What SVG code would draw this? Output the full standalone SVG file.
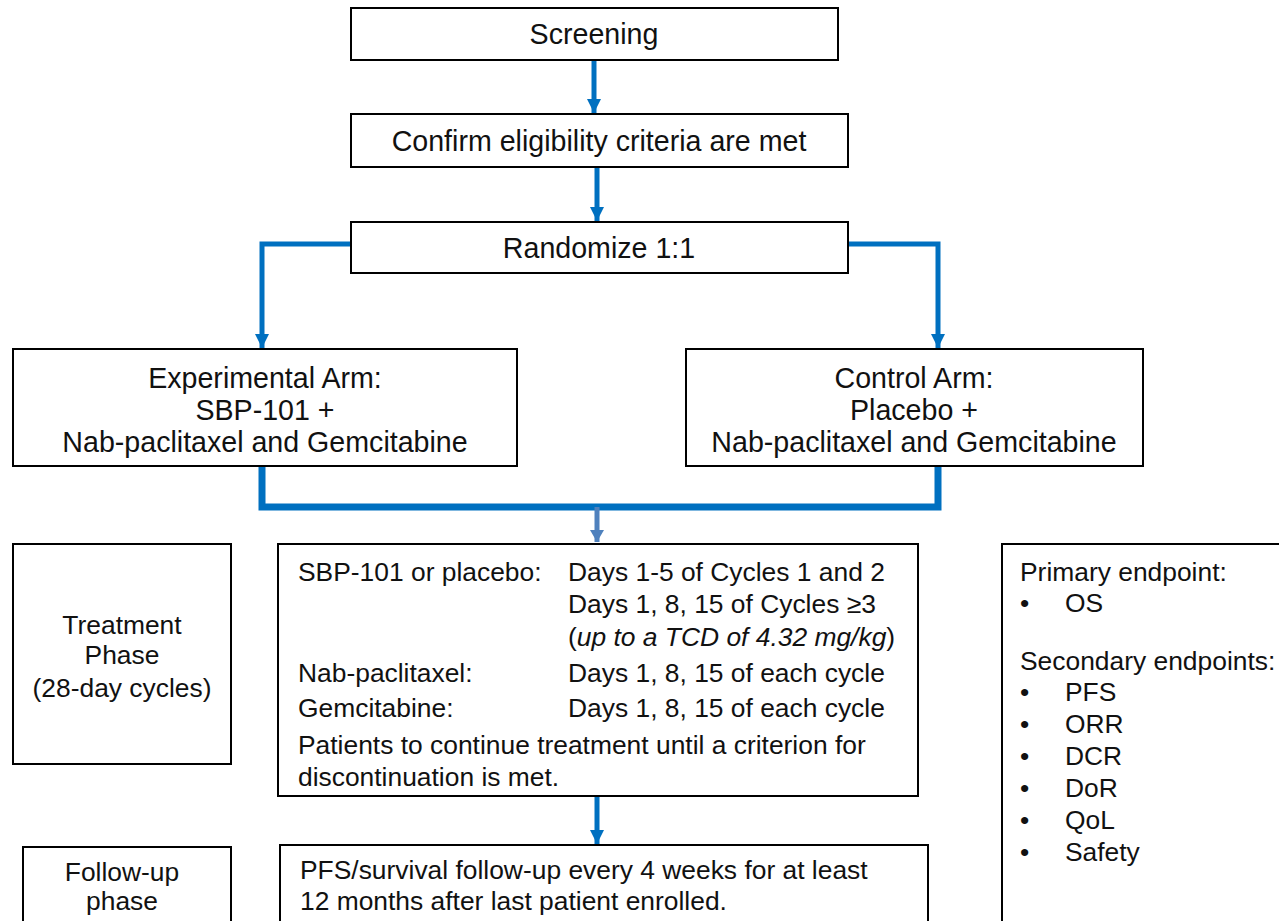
<svg xmlns="http://www.w3.org/2000/svg" width="1279" height="921" viewBox="0 0 1279 921">
<defs>
<style>
.box{fill:#fff;stroke:#000;stroke-width:2}
.t{font-family:"Liberation Sans",Arial,sans-serif;font-size:28.6px;fill:#111}
.s{font-family:"Liberation Sans",Arial,sans-serif;font-size:26.4px;fill:#111}
.c{text-anchor:middle}
.ln{fill:none;stroke:#0070C0;stroke-width:5}
.thick{fill:none;stroke:#0070C0;stroke-width:7}
</style>
<marker id="ah" markerUnits="userSpaceOnUse" markerWidth="16" markerHeight="14" refX="14" refY="7" orient="auto">
<path d="M0,0 L14,7 L0,14 z" fill="#0070C0"/>
</marker>
<marker id="ah2" markerUnits="userSpaceOnUse" markerWidth="16" markerHeight="14" refX="12" refY="7" orient="auto">
<path d="M0,0 L12,7 L0,14 z" fill="#4F81BD"/>
</marker>
</defs>
<rect width="1279" height="921" fill="#fff"/>
<g id="connectors">
<line class="ln" x1="594" y1="60" x2="594" y2="113" marker-end="url(#ah)"/>
<line class="ln" x1="597" y1="167" x2="597" y2="221" marker-end="url(#ah)"/>
<path class="ln" d="M351,244 H262 V348" marker-end="url(#ah)"/>
<path class="ln" d="M848,244 H938 V348" marker-end="url(#ah)"/>
<path class="thick" d="M262,466 V507 H938 V466"/>
<line x1="597" y1="507" x2="597" y2="542" stroke="#4F81BD" stroke-width="5" marker-end="url(#ah2)"/>
<line class="ln" x1="597" y1="796" x2="597" y2="844" marker-end="url(#ah)"/>
</g>
<g id="screening">
<rect class="box" x="351" y="8" width="487" height="52"/>
<text class="t c" x="594" y="44">Screening</text>
</g>
<g id="confirm">
<rect class="box" x="351" y="114" width="497" height="53"/>
<text class="t c" x="599" y="151">Confirm eligibility criteria are met</text>
</g>
<g id="randomize">
<rect class="box" x="351" y="222" width="497" height="51"/>
<text class="t c" x="599" y="258">Randomize 1:1</text>
</g>
<g id="experimental">
<rect class="box" x="13" y="349" width="504" height="117"/>
<text class="t c" x="265" y="388">Experimental Arm:</text>
<text class="t c" x="265" y="420">SBP-101 +</text>
<text class="t c" x="265" y="452">Nab-paclitaxel and Gemcitabine</text>
</g>
<g id="control">
<rect class="box" x="686" y="349" width="457" height="117"/>
<text class="t c" x="914" y="388">Control Arm:</text>
<text class="t c" x="914" y="420">Placebo +</text>
<text class="t c" x="914" y="452">Nab-paclitaxel and Gemcitabine</text>
</g>
<g id="treatment-phase">
<rect class="box" x="13" y="544" width="218" height="220"/>
<text class="s c" x="122" y="634">Treatment</text>
<text class="s c" x="122" y="664">Phase</text>
<text class="s c" x="122" y="697">(28-day cycles)</text>
</g>
<g id="treatment">
<rect class="box" x="278" y="544" width="640" height="252"/>
<text class="s" x="298" y="581">SBP-101 or placebo:</text>
<text class="s" x="568" y="581">Days 1-5 of Cycles 1 and 2</text>
<text class="s" x="568" y="613">Days 1, 8, 15 of Cycles ≥3</text>
<text class="s" x="568" y="646">(<tspan font-style="italic">up to a TCD of 4.32 mg/kg</tspan>)</text>
<text class="s" x="298" y="682">Nab-paclitaxel:</text>
<text class="s" x="568" y="682">Days 1, 8, 15 of each cycle</text>
<text class="s" x="298" y="717">Gemcitabine:</text>
<text class="s" x="568" y="717">Days 1, 8, 15 of each cycle</text>
<text class="s" x="298" y="754">Patients to continue treatment until a criterion for</text>
<text class="s" x="298" y="786">discontinuation is met.</text>
</g>
<g id="endpoints">
<rect class="box" x="1002" y="544" width="300" height="420"/>
<text class="s" x="1020" y="581">Primary endpoint:</text>
<text class="s" x="1020" y="612">•</text><text class="s" x="1065" y="612">OS</text>
<text class="s" x="1020" y="670">Secondary endpoints:</text>
<text class="s" x="1020" y="701">•</text><text class="s" x="1065" y="701">PFS</text>
<text class="s" x="1020" y="733">•</text><text class="s" x="1065" y="733">ORR</text>
<text class="s" x="1020" y="765">•</text><text class="s" x="1065" y="765">DCR</text>
<text class="s" x="1020" y="797">•</text><text class="s" x="1065" y="797">DoR</text>
<text class="s" x="1020" y="829">•</text><text class="s" x="1065" y="829">QoL</text>
<text class="s" x="1020" y="861">•</text><text class="s" x="1065" y="861">Safety</text>
</g>
<g id="followup-phase">
<rect class="box" x="23" y="847" width="208" height="100"/>
<text class="s c" x="122" y="881">Follow-up</text>
<text class="s c" x="122" y="910">phase</text>
</g>
<g id="followup">
<rect class="box" x="280" y="845" width="648" height="100"/>
<text class="s" x="300" y="879">PFS/survival follow-up every 4 weeks for at least</text>
<text class="s" x="300" y="910">12 months after last patient enrolled.</text>
</g>
</svg>
